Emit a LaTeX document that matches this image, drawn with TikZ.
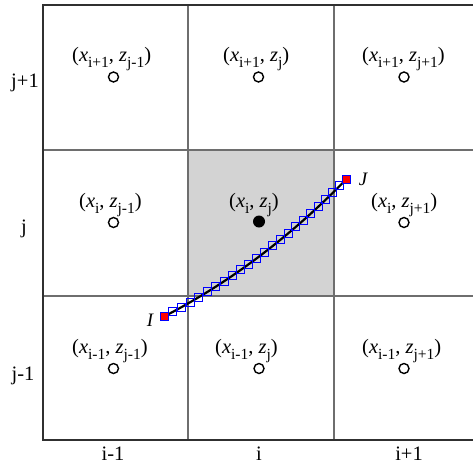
\documentclass[tikz,border=0pt]{standalone}
\usepackage{fontspec}
\setmainfont{Liberation Serif}
\usetikzlibrary{decorations.markings}
\definecolor{innergrid}{HTML}{6E6E6E}
\definecolor{outergrid}{HTML}{303030}
\definecolor{cellgray}{HTML}{D3D3D3}
\newcommand{\sbs}[1]{\raisebox{-0.32em}{\fontsize{15.5}{15.5}\selectfont #1}}
\tikzset{
  lbl/.style={font=\fontsize{20.5}{20.5}\selectfont, inner sep=0pt, anchor=base west},
  axl/.style={font=\fontsize{20.5}{20.5}\selectfont, inner sep=0pt, anchor=base},
  endl/.style={font=\fontsize{19}{19}\selectfont\itshape, inner sep=0pt, anchor=base},
  hollowpt/.style={circle, draw=black, line width=1.4pt, minimum size=10pt, inner sep=0pt, fill=white},
  fullpt/.style={circle, fill=black, minimum size=12pt, inner sep=0pt},
  inline/.style={innergrid, line width=1.5pt},
  outline/.style={outergrid, line width=2pt},
  bluesq/.style={draw=blue, line width=1pt, minimum size=8pt, inner sep=0pt},
  redsq/.style={draw=blue, fill=red, line width=1pt, minimum size=8pt, inner sep=0pt}
}
\begin{document}
\begin{tikzpicture}[x=1pt,y=-1pt]
\useasboundingbox (0,0) rectangle (473,466);
% shaded cell
\fill[cellgray] (188,150) rectangle (334,296);
% inner grid lines
\draw[inline] (188,5) -- (188,440);
\draw[inline] (334,5) -- (334,440);
\draw[inline] (43,150) -- (473,150);
\draw[inline] (43,296) -- (473,296);
% outer frame
\draw[outline] (473,5) -- (43,5) -- (43,440) -- (473,440);
% grid points
\node[hollowpt] (p11) at (113.5,77) {};
\node[hollowpt] (p12) at (258.5,77) {};
\node[hollowpt] (p13) at (404,77) {};
\node[hollowpt] (p21) at (113.5,222.5) {};
\node[fullpt]   (p22) at (259,221.5) {};
\node[hollowpt] (p23) at (404,222.5) {};
\node[hollowpt] (p31) at (113.5,368.5) {};
\node[hollowpt] (p32) at (259,368.5) {};
\node[hollowpt] (p33) at (404,368.5) {};
% point labels
\node[lbl] (l11) at (72,61) {(\textit{x}\sbs{i+1}, \textit{z}\sbs{j-1})};
\node[lbl] (l12) at (223,61) {(\textit{x}\sbs{i+1}, \textit{z}\sbs{j})};
\node[lbl] (l13) at (362,61) {(\textit{x}\sbs{i+1}, \textit{z}\sbs{j+1})};
\node[lbl] (l21) at (79,207) {(\textit{x}\sbs{i}, \textit{z}\sbs{j-1})};
\node[lbl] (l22) at (229,207) {(\textit{x}\sbs{i}, \textit{z}\sbs{j})};
\node[lbl] (l23) at (371,207) {(\textit{x}\sbs{i}, \textit{z}\sbs{j+1})};
\node[lbl] (l31) at (72,353) {(\textit{x}\sbs{i-1}, \textit{z}\sbs{j-1})};
\node[lbl] (l32) at (215,353) {(\textit{x}\sbs{i-1}, \textit{z}\sbs{j})};
\node[lbl] (l33) at (362,353) {(\textit{x}\sbs{i-1}, \textit{z}\sbs{j+1})};
% axis labels
\node[axl] (r1) at (25,87) {j+1};
\node[axl] (r2) at (24,233) {j};
\node[axl] (r3) at (23,380) {j-1};
\node[axl] (c1) at (113,460) {i-1};
\node[axl] (c2) at (259,460) {i};
\node[axl] (c3) at (409,460) {i+1};
% ray path
\coordinate (I) at (164,316.5);
\coordinate (J) at (346.5,179);
\draw[black, line width=2.2pt,
  postaction={decorate, decoration={markings,
    mark=between positions 0.0435 and 0.96 step 0.0435 with {\node[bluesq] {};}}}]
  (I) .. controls (229.3,282.8) and (290.2,237) .. (J);
\node[redsq] (Isq) at (I) {};
\node[redsq] (Jsq) at (J) {};
\node[endl] (Ilab) at (150,326) {I};
\node[endl] (Jlab) at (363,185) {J};
\end{tikzpicture}
\end{document}
